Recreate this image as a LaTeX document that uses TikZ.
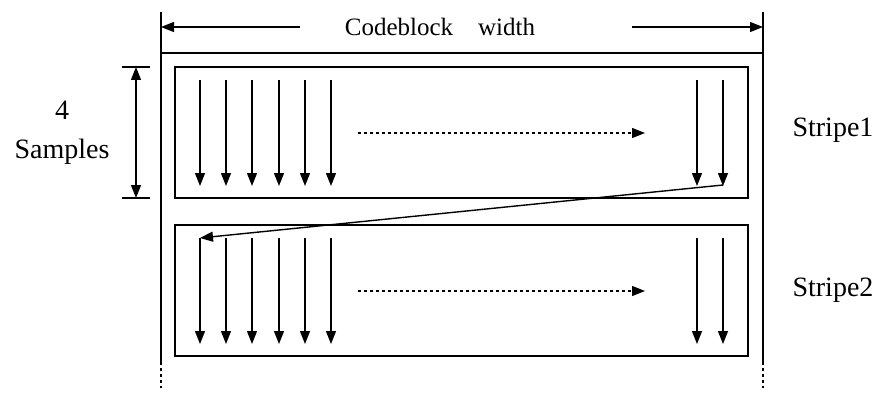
\documentclass[tikz,border=0pt]{standalone}
\usepackage{fontspec}
\setmainfont{Liberation Serif}
\usetikzlibrary{arrows.meta}
\begin{document}
\begin{tikzpicture}[x=1pt,y=-1pt,line width=1.4pt,
  tip/.tip={Triangle[length=13pt,width=10pt]},
  ar/.style={-tip},
  lbl/.style={font=\fontsize{28}{32}\selectfont,inner sep=0pt}]
\useasboundingbox (0,0) rectangle (887,404);
\fill[white] (0,0) rectangle (887,404);
% outer frame
\draw (161,12) -- (161,362); \draw[dashed] (161,362) -- (161,388);
\draw (763,12) -- (763,362); \draw[dashed] (763,362) -- (763,388);
\draw (161,53) -- (763,53);
% width label
\node[lbl,font=\fontsize{25}{28}\selectfont] (cw) at (440,27) {Codeblock\quad width};
\coordinate (wl) at (161,27); \coordinate (wr) at (763,27);
\draw[ar] (300,27) -- (wl);
\draw[ar] (632,27) -- (wr);
% stripes
\node[draw,minimum width=573pt,minimum height=131pt,inner sep=0pt] (s1) at (461.5,132.5) {};
\node[draw,minimum width=573pt,minimum height=131pt,inner sep=0pt] (s2) at (461.5,290.5) {};
\foreach \x in {200,226,252,279,305,331,697,723}{
  \draw[ar] (\x,80) -- (\x,186);
  \draw[ar] (\x,238) -- (\x,344);
}
\draw[ar,dashed,line width=1.1pt] (358,133) -- (645,133);
\draw[ar,dashed,line width=1.1pt] (358,291) -- (645,291);
\coordinate (d1) at (723,185); \coordinate (d2) at (200,238);
\draw[ar] (d1) -- (d2);
% samples
\draw (122,67) -- (150,67); \draw (122,198) -- (150,198);
\coordinate (sa) at (136,67); \coordinate (sb) at (136,198);
\draw[tip-tip] (sa) -- (sb);
\node[lbl] (n4) at (62,110) {4};
\node[lbl] (ns) at (62,152) {Samples};
\node[lbl] (t1) at (833,130) {Stripe1};
\node[lbl] (t2) at (833,290) {Stripe2};
\end{tikzpicture}
\end{document}
